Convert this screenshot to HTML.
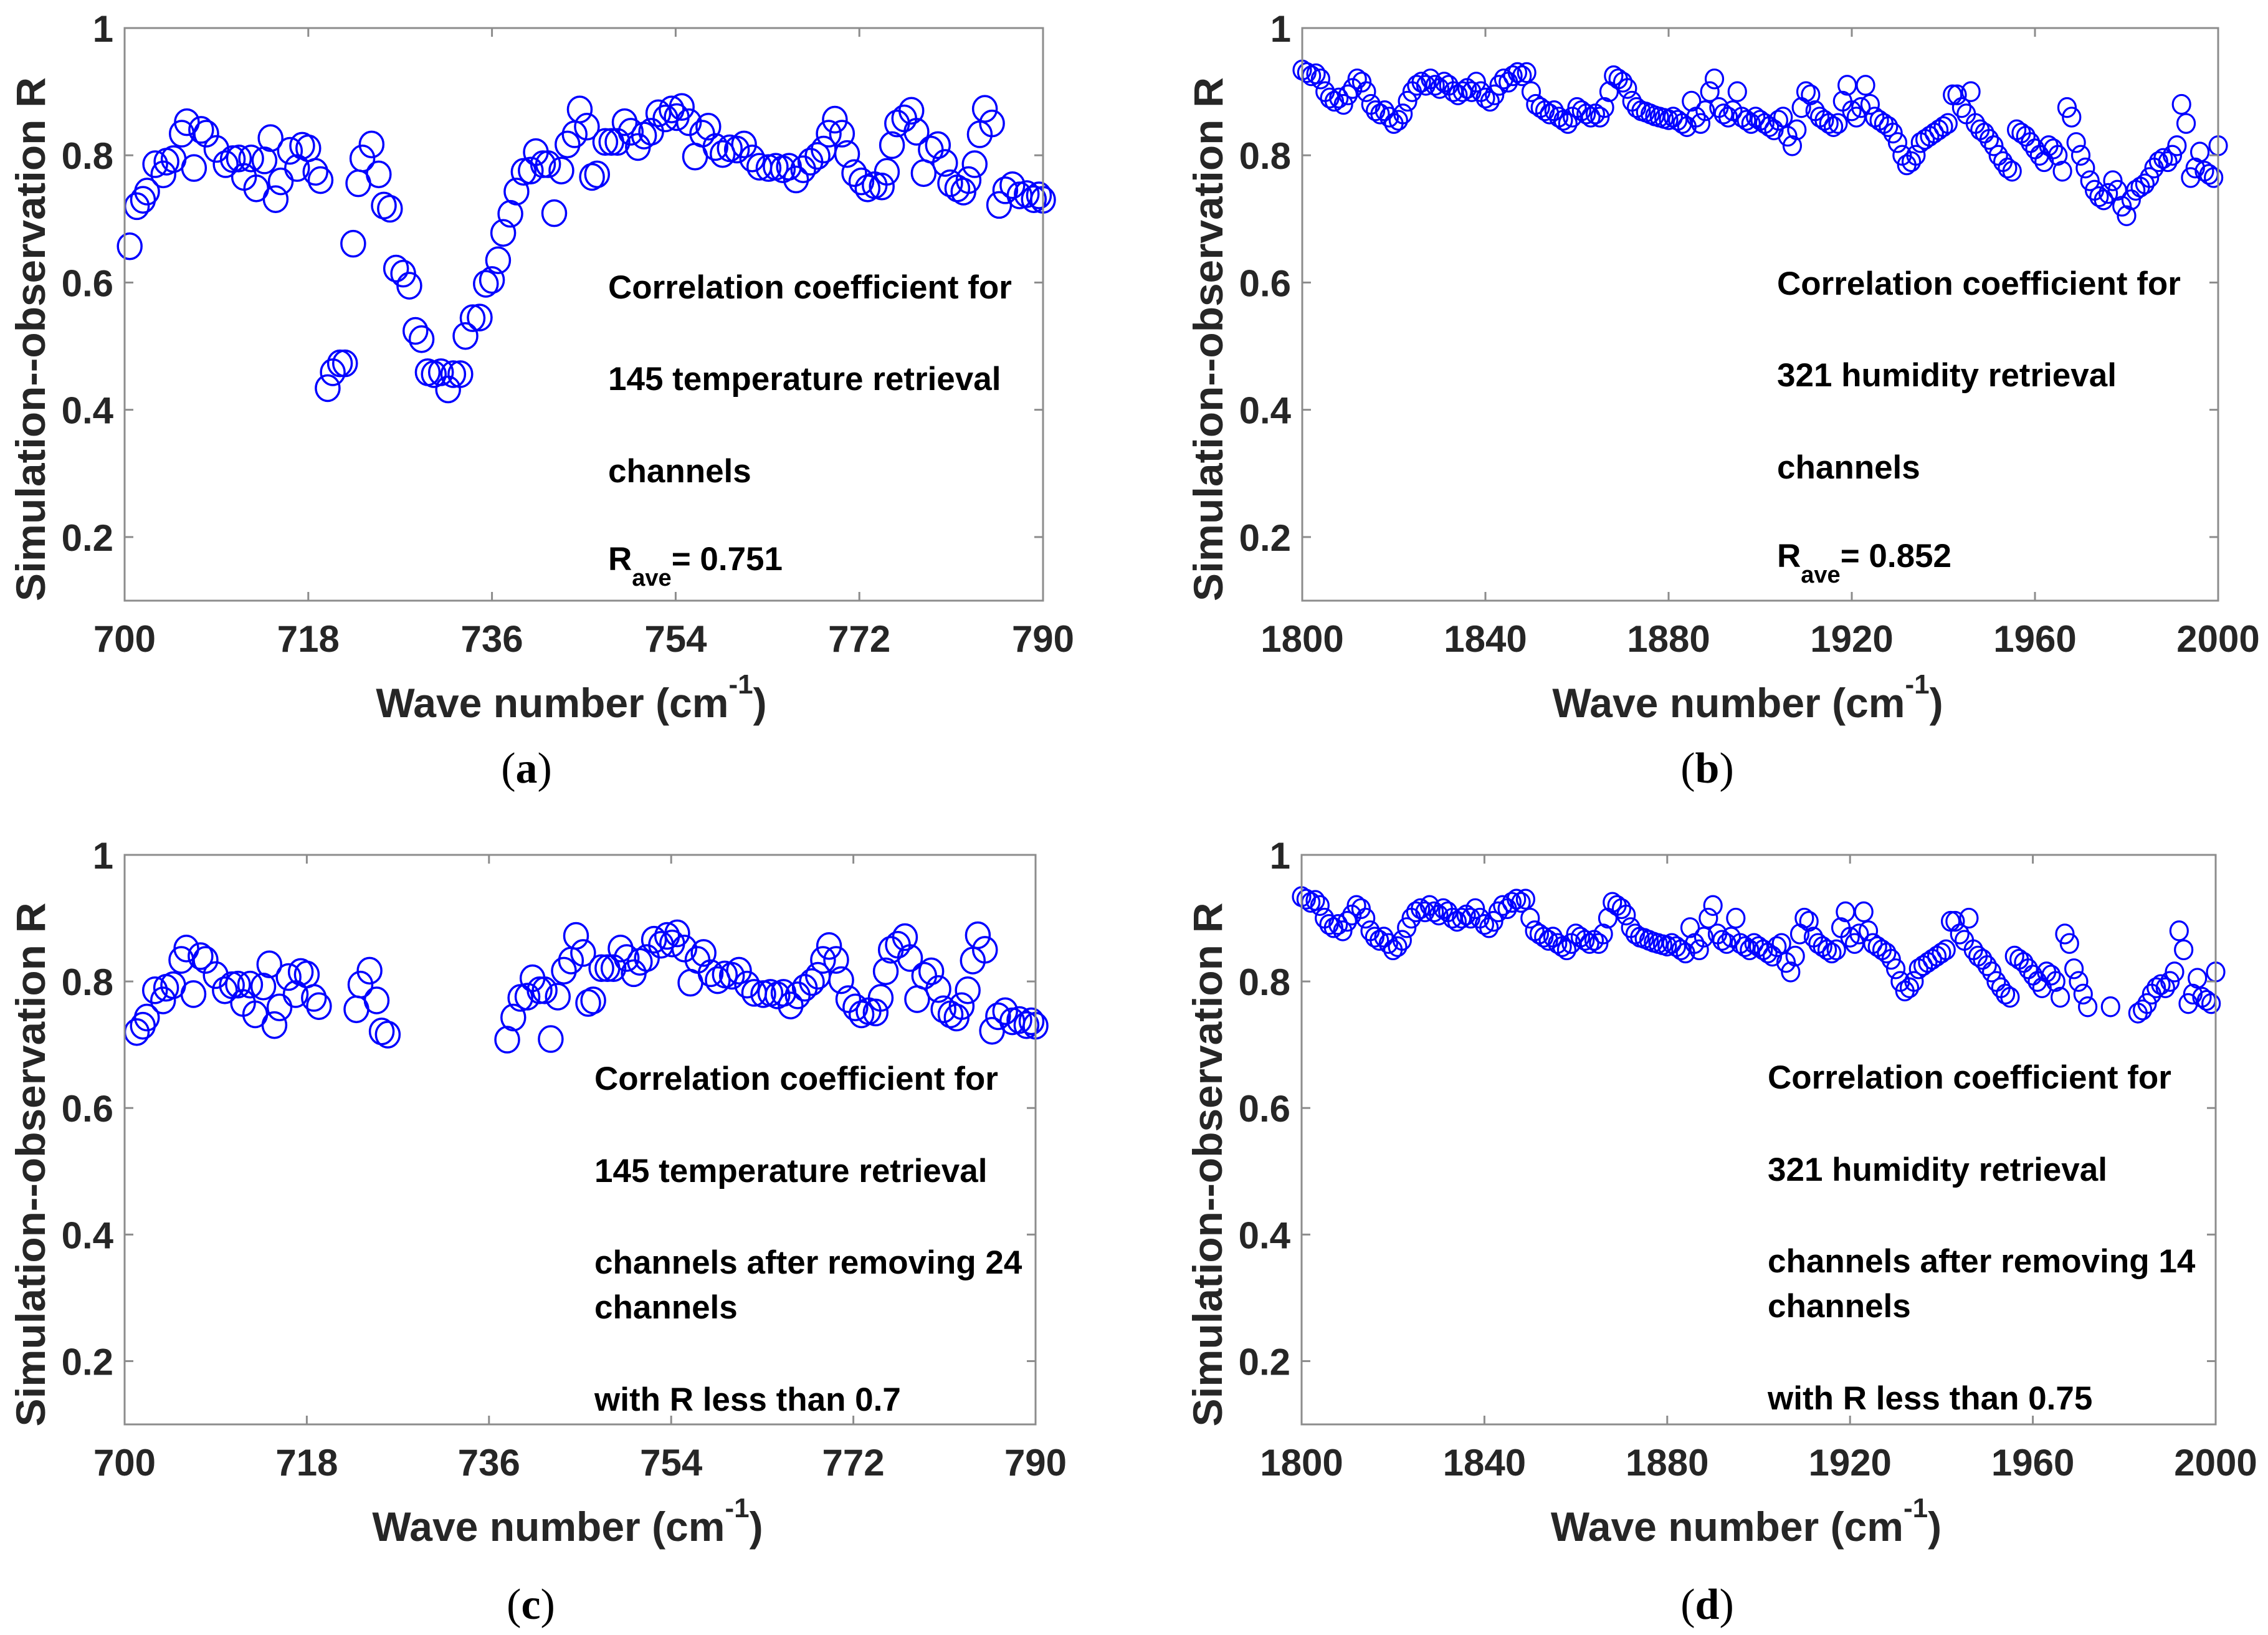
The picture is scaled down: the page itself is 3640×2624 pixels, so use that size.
<!DOCTYPE html>
<html><head><meta charset="utf-8"><style>
html,body{margin:0;padding:0;background:#fff;}
svg{display:block;}
text{font-family:"Liberation Sans",Arial,sans-serif;}
</style></head>
<body>
<svg id="fig" width="3640" height="2624" viewBox="0 0 3640 2624" xmlns="http://www.w3.org/2000/svg"></svg>
<script>
// ---- data ----
const wnA = [700.5,701.2,701.8,702.2,703,703.8,704.1,704.8,705.6,706.1,706.8,707.5,708,709,709.9,710.6,711.2,711.7,712.4,712.9,713.7,714.3,714.8,715.3,716.2,716.9,717.4,718,718.7,719.2,719.9,720.4,721.1,721.6,722.4,722.9,723.3,724.2,724.9,725.4,726,726.6,727.3,727.9,728.5,729.1,729.7,730.3,731,731.7,732.2,732.9,733.4,734.1,734.8,735.4,736,736.6,737.1,737.8,738.4,739.1,739.8,740.3,741,741.5,742.1,742.8,743.4,744.1,744.6,745.3,745.8,746.3,747.1,747.7,748.3,749,749.6,750.3,750.9,751.6,752.3,753,753.6,754.1,754.6,755.3,755.9,756.6,757.2,757.9,758.6,759.3,760,760.7,761.5,762.2,763.1,763.8,764.5,765.1,765.8,766.5,767.2,767.9,768.5,769,769.6,770.3,770.8,771.5,772.2,772.8,773.5,774.2,774.7,775.2,775.7,776.4,777.1,777.6,778.3,779,779.7,780.4,780.9,781.6,782.2,782.7,783.3,783.8,784.3,785,785.7,786.3,787,787.7,788.4,789.1,789.6,790];
const rA = [0.657,0.72,0.73,0.743,0.786,0.77,0.79,0.794,0.834,0.852,0.78,0.84,0.834,0.81,0.786,0.794,0.795,0.766,0.795,0.748,0.792,0.827,0.731,0.759,0.807,0.78,0.815,0.811,0.774,0.761,0.434,0.459,0.473,0.473,0.661,0.756,0.795,0.817,0.77,0.721,0.716,0.622,0.614,0.595,0.524,0.511,0.459,0.456,0.459,0.432,0.456,0.456,0.516,0.544,0.545,0.598,0.604,0.635,0.678,0.708,0.743,0.774,0.776,0.805,0.786,0.786,0.709,0.776,0.817,0.833,0.872,0.845,0.766,0.77,0.821,0.821,0.821,0.852,0.837,0.813,0.831,0.837,0.866,0.858,0.872,0.86,0.876,0.852,0.798,0.834,0.845,0.813,0.802,0.811,0.809,0.817,0.795,0.782,0.78,0.782,0.778,0.782,0.762,0.778,0.79,0.799,0.809,0.834,0.856,0.834,0.802,0.772,0.759,0.748,0.753,0.751,0.774,0.816,0.85,0.858,0.87,0.837,0.772,0.809,0.816,0.788,0.756,0.748,0.743,0.761,0.786,0.833,0.873,0.85,0.722,0.745,0.753,0.737,0.739,0.731,0.737,0.73];
const wnB = [];
for (let w = 1800; w <= 2000; w++) wnB.push(w);
const rB = [0.934,0.93,0.925,0.928,0.92,0.9,0.89,0.885,0.89,0.88,0.895,0.905,0.92,0.915,0.9,0.88,0.87,0.865,0.87,0.86,0.85,0.855,0.865,0.885,0.9,0.91,0.915,0.91,0.92,0.91,0.905,0.915,0.91,0.9,0.895,0.9,0.905,0.9,0.915,0.9,0.89,0.885,0.895,0.91,0.92,0.915,0.925,0.93,0.925,0.93,0.9,0.88,0.875,0.87,0.865,0.87,0.86,0.855,0.85,0.86,0.875,0.87,0.865,0.86,0.865,0.86,0.875,0.9,0.925,0.92,0.915,0.905,0.885,0.875,0.87,0.868,0.865,0.862,0.86,0.858,0.856,0.86,0.855,0.85,0.845,0.885,0.86,0.85,0.87,0.9,0.92,0.875,0.865,0.86,0.87,0.9,0.86,0.855,0.85,0.86,0.855,0.85,0.845,0.84,0.855,0.86,0.83,0.815,0.84,0.875,0.9,0.895,0.87,0.86,0.855,0.85,0.845,0.85,0.885,0.91,0.87,0.86,0.875,0.91,0.88,0.86,0.855,0.85,0.845,0.835,0.82,0.8,0.785,0.79,0.8,0.82,0.825,0.83,0.835,0.84,0.845,0.85,0.895,0.895,0.875,0.865,0.9,0.85,0.84,0.835,0.825,0.815,0.8,0.79,0.78,0.775,0.84,0.835,0.83,0.82,0.81,0.8,0.79,0.815,0.81,0.8,0.775,0.875,0.86,0.82,0.8,0.78,0.76,0.745,0.735,0.73,0.74,0.76,0.745,0.72,0.705,0.73,0.745,0.75,0.755,0.765,0.78,0.79,0.795,0.79,0.8,0.815,0.88,0.85,0.765,0.78,0.805,0.775,0.77,0.765,0.815];
const xTicksA = [700,718,736,754,772,790];
const xTicksB = [1800,1840,1880,1920,1960,2000];
const yTicks = [0.2,0.4,0.6,0.8,1];
const yTickLabels = ["0.2","0.4","0.6","0.8","1"];
const thresholdC = 0.7;
const thresholdD = 0.75;

// ---- drawing ----
const NS = "http://www.w3.org/2000/svg";
const svg = document.getElementById('fig');
function mk(tag, attrs, parent) {
  const e = document.createElementNS(NS, tag);
  for (const k in attrs) e.setAttribute(k, attrs[k]);
  (parent || svg).appendChild(e);
  return e;
}

function panel(cfg) {
  const g = mk('g', {});
  
  
  const L = cfg.L, R = cfg.R, T = cfg.T, B = cfg.B;
  const sx = v => L + (v - cfg.xmin) / (cfg.xmax - cfg.xmin) * (R - L);
  const sy = v => B - (v - 0.1) / 0.9 * (B - T);

  const mg = mk('g', {fill: 'none', stroke: '#0000ff', 'stroke-width': cfg.sw}, g);
  
  
  for (let i = 0; i < cfg.xs.length; i++) {
    if (cfg.thr !== null && cfg.ys[i] < cfg.thr) continue;
    const c = mk('ellipse', {cx: sx(cfg.xs[i]), cy: sy(cfg.ys[i]), rx: cfg.r, ry: cfg.r * 1.08}, mg);
    
    
  }

  const box = mk('rect', {x: L, y: T, width: R - L, height: B - T, fill: 'none', stroke: '#8c8c8c', 'stroke-width': 3}, g);
  
  

  cfg.xt.forEach(v => {
    const x = sx(v);
    mk('line', {x1: x, x2: x, y1: B, y2: B - 14, stroke: '#8c8c8c', 'stroke-width': 3}, g);
    mk('line', {x1: x, x2: x, y1: T, y2: T + 14, stroke: '#8c8c8c', 'stroke-width': 3}, g);
    const t = mk('text', {x: x, y: B + 82, 'text-anchor': 'middle', 'font-size': 60, 'font-weight': 'bold', fill: '#262626'}, g);
    t.textContent = String(v);
    
    
  });
  yTicks.forEach((v, i) => {
    const y = sy(v);
    mk('line', {x1: L, x2: L + 14, y1: y, y2: y, stroke: '#8c8c8c', 'stroke-width': 3}, g);
    mk('line', {x1: R, x2: R - 14, y1: y, y2: y, stroke: '#8c8c8c', 'stroke-width': 3}, g);
    const t = mk('text', {x: L - 18, y: y + 22, 'text-anchor': 'end', 'font-size': 60, 'font-weight': 'bold', fill: '#262626'}, g);
    t.textContent = yTickLabels[i];
    
    
  });

  const xl = mk('text', {x: (L + R) / 2 - 20, y: B + 187, 'text-anchor': 'middle', 'font-size': 66, 'font-weight': 'bold', fill: '#262626'}, g);
  
  
  xl.appendChild(document.createTextNode('Wave number (cm'));
  const sup = mk('tspan', {'font-size': 44, dy: -38}, xl); sup.textContent = '-1';
  const cl = mk('tspan', {dy: 38}, xl); cl.textContent = ')';

  const yc = (T + B) / 2 + 40;
  const yl = mk('text', {x: 0, y: 0, transform: `translate(${L - 128},${yc}) rotate(-90)`, 'text-anchor': 'middle', 'font-size': 66, 'font-weight': 'bold', fill: '#262626', textLength: 841, lengthAdjust: 'spacingAndGlyphs'}, g);
  yl.textContent = 'Simulation--observation R';
  
  

  const ag = mk('g', {}, g);
  
  
  cfg.lines.forEach(l => {
    const t = mk('text', {x: cfg.tx, y: l[0], 'font-size': 53, 'font-weight': 'bold', fill: '#000'}, ag);
    if (l[1] === 'RAVE') {
      t.appendChild(document.createTextNode('R'));
      const s = mk('tspan', {'font-size': 38, dy: 25}, t); s.textContent = 'ave';
      const s2 = mk('tspan', {dy: -25}, t); s2.textContent = '= ' + l[2];
    } else {
      t.textContent = l[1];
    }
  });

  const pl = mk('text', {x: cfg.lx, y: cfg.ly, 'text-anchor': 'middle', 'font-size': 70, fill: '#000'}, g);
  pl.setAttribute('style', 'font-family:"Liberation Serif",serif');
  
  
  pl.appendChild(document.createTextNode('('));
  const pb = mk('tspan', {'font-weight': 'bold'}, pl); pb.textContent = cfg.letter;
  pl.appendChild(document.createTextNode(')'));
}

panel({name: 'panel-a', L: 200, R: 1674, T: 45, B: 964, xmin: 700, xmax: 790, xs: wnA, ys: rA, thr: null, r: 19, sw: 3.5, xt: xTicksA,
  tx: 976, lines: [[479, 'Correlation coefficient for'], [626, '145 temperature retrieval'], [774, 'channels'], [915, 'RAVE', '0.751']],
  lx: 845, ly: 1256, letter: 'a'});
panel({name: 'panel-b', L: 2090, R: 3560, T: 45, B: 964, xmin: 1800, xmax: 2000, xs: wnB, ys: rB, thr: null, r: 14, sw: 3.2, xt: xTicksB,
  tx: 2852, lines: [[473, 'Correlation coefficient for'], [620, '321 humidity retrieval'], [768, 'channels'], [910, 'RAVE', '0.852']],
  lx: 2740, ly: 1256, letter: 'b'});
panel({name: 'panel-c', L: 200, R: 1662, T: 1372, B: 2286, xmin: 700, xmax: 790, xs: wnA, ys: rA, thr: thresholdC, r: 19, sw: 3.5, xt: xTicksA,
  tx: 954, lines: [[1749, 'Correlation coefficient for'], [1897, '145 temperature retrieval'], [2044, 'channels after removing 24'], [2116, 'channels'], [2264, 'with R less than 0.7']],
  lx: 852, ly: 2598, letter: 'c'});
panel({name: 'panel-d', L: 2089, R: 3556, T: 1372, B: 2286, xmin: 1800, xmax: 2000, xs: wnB, ys: rB, thr: thresholdD, r: 14, sw: 3.2, xt: xTicksB,
  tx: 2837, lines: [[1747, 'Correlation coefficient for'], [1895, '321 humidity retrieval'], [2042, 'channels after removing 14'], [2114, 'channels'], [2262, 'with R less than 0.75']],
  lx: 2740, ly: 2598, letter: 'd'});
</script>
</body></html>
